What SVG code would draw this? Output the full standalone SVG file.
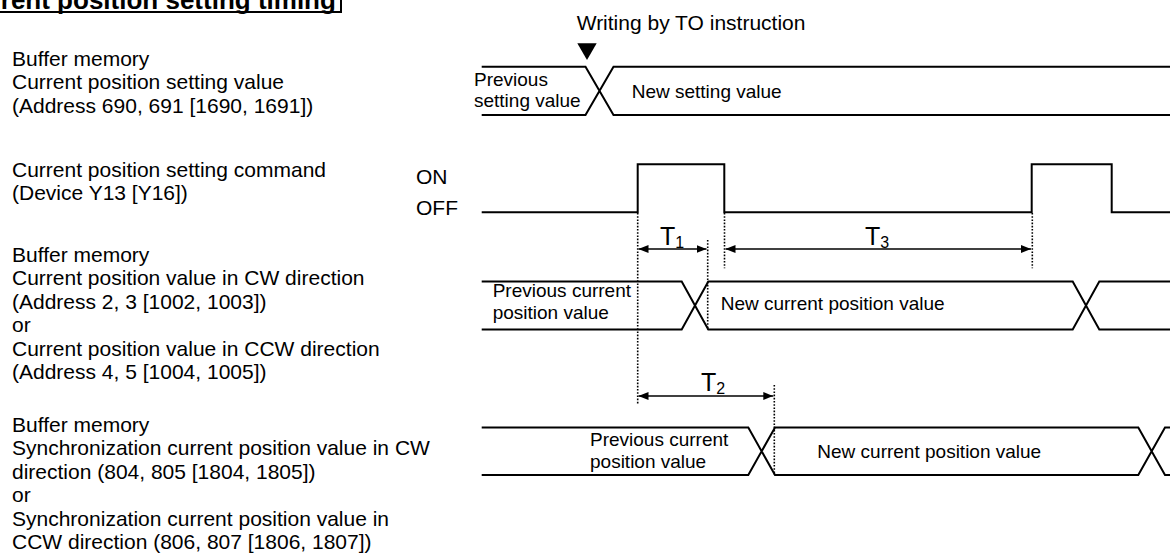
<svg xmlns="http://www.w3.org/2000/svg" width="1170" height="553" viewBox="0 0 1170 553">
<style>
  .lbl { font-family: "Liberation Sans", Arial, sans-serif; font-size: 21px; fill: #000; }
  .wl { font-family: "Liberation Sans", Arial, sans-serif; font-size: 19px; fill: #000; }
  .tl { font-family: "Liberation Sans", Arial, sans-serif; font-size: 25px; fill: #000; }
  .ts { font-family: "Liberation Sans", Arial, sans-serif; font-size: 16px; fill: #000; }
  .title { font-family: "Liberation Sans", Arial, sans-serif; font-size: 26px; font-weight: bold; fill: #000; }
  .sig { fill: none; stroke: #000; stroke-width: 2; }
  .dot { fill: none; stroke: #000; stroke-width: 1.6; stroke-dasharray: 1.6 1.6; }
  .dim { fill: none; stroke: #000; stroke-width: 1.6; }
</style>
<defs>
  <marker id="ah" markerUnits="userSpaceOnUse" markerWidth="10" markerHeight="10" viewBox="0 0 10 10" refX="10" refY="5" orient="auto-start-reverse">
    <path d="M0,1 L10,5 L0,9 Z" fill="#000"/>
  </marker>
</defs>
<rect width="1170" height="553" fill="#fff"/>

<g id="title">
  <rect x="-60" y="-40" width="401" height="52" fill="none" stroke="#000" stroke-width="2"/>
  <text class="title" x="-44" y="8.7">Current position setting timing</text>
</g>

<g id="label-setting-value">
  <text class="lbl" x="12" y="66">Buffer memory</text>
  <text class="lbl" x="12" y="89.4">Current position setting value</text>
  <text class="lbl" x="12" y="112.8">(Address 690, 691 [1690, 1691])</text>
</g>
<g id="label-command">
  <text class="lbl" x="12" y="177">Current position setting command</text>
  <text class="lbl" x="12" y="200.4">(Device Y13 [Y16])</text>
  <text class="lbl" x="416" y="183.5">ON</text>
  <text class="lbl" x="416" y="215">OFF</text>
</g>
<g id="label-cw">
  <text class="lbl" x="12" y="262">Buffer memory</text>
  <text class="lbl" x="12" y="285.4">Current position value in CW direction</text>
  <text class="lbl" x="12" y="308.8">(Address 2, 3 [1002, 1003])</text>
  <text class="lbl" x="12" y="332.2">or</text>
  <text class="lbl" x="12" y="355.6">Current position value in CCW direction</text>
  <text class="lbl" x="12" y="379">(Address 4, 5 [1004, 1005])</text>
</g>
<g id="label-sync">
  <text class="lbl" x="12" y="432">Buffer memory</text>
  <text class="lbl" x="12" y="455.4">Synchronization current position value in CW</text>
  <text class="lbl" x="12" y="478.8">direction (804, 805 [1804, 1805])</text>
  <text class="lbl" x="12" y="502.2">or</text>
  <text class="lbl" x="12" y="525.6">Synchronization current position value in</text>
  <text class="lbl" x="12" y="549">CCW direction (806, 807 [1806, 1807])</text>
</g>

<g id="row-setting-value">
  <text class="lbl" x="576.7" y="30">Writing by TO instruction</text>
  <path d="M577.3,43.3 L596.7,43.3 L587,60 Z" fill="#000"/>
  <path class="sig" d="M481.7,66.7 H585.5 L613.5,115 H1170 M481.7,115 H585.5 L613.5,66.7 H1170"/>
  <text class="wl" x="474" y="86">Previous</text>
  <text class="wl" x="474" y="107">setting value</text>
  <text class="wl" x="631.7" y="98">New setting value</text>
</g>

<g id="row-command">
  <path class="sig" d="M481.7,212.3 H637.7 V164.3 H724.3 V212.3 H1031.7 V164.3 H1111.7 V212.3 H1170"/>
</g>

<g id="row-cw">
  <path class="sig" d="M481.7,281.5 H681.7 L708.3,329.5 H1072.7 L1099.3,281.5 H1170 M481.7,329.5 H681.7 L708.3,281.5 H1072.7 L1099.3,329.5 H1170"/>
  <text class="wl" x="492.7" y="297">Previous current</text>
  <text class="wl" x="492.7" y="319.3">position value</text>
  <text class="wl" x="720.7" y="310">New current position value</text>
</g>

<g id="row-sync">
  <path class="sig" d="M481.7,427.5 H748.3 L775,475 H1138.3 L1165,427.5 H1170 M481.7,475 H748.3 L775,427.5 H1138.3 L1165,475 H1170"/>
  <text class="wl" x="590" y="446">Previous current</text>
  <text class="wl" x="590" y="468.3">position value</text>
  <text class="wl" x="817.3" y="458">New current position value</text>
</g>

<g id="connectors">
  <line class="dot" x1="637.7" y1="213" x2="637.7" y2="405"/>
  <line class="dot" x1="707.7" y1="240" x2="707.7" y2="330"/>
  <line class="dot" x1="724.5" y1="213" x2="724.5" y2="268.3"/>
  <line class="dot" x1="1032.3" y1="213" x2="1032.3" y2="268.3"/>
  <line class="dot" x1="774.3" y1="385" x2="774.3" y2="475"/>
  <line class="dim" x1="638.5" y1="249" x2="706.5" y2="249" marker-start="url(#ah)" marker-end="url(#ah)"/>
  <line class="dim" x1="725.5" y1="249" x2="1031" y2="249" marker-start="url(#ah)" marker-end="url(#ah)"/>
  <line class="dim" x1="638.5" y1="396" x2="773.3" y2="396" marker-start="url(#ah)" marker-end="url(#ah)"/>
</g>

<g id="time-labels">
  <text class="tl" x="660" y="244.5">T<tspan class="ts" dy="3">1</tspan></text>
  <text class="tl" x="865" y="244.5">T<tspan class="ts" dy="3">3</tspan></text>
  <text class="tl" x="701" y="391">T<tspan class="ts" dy="3">2</tspan></text>
</g>
</svg>
